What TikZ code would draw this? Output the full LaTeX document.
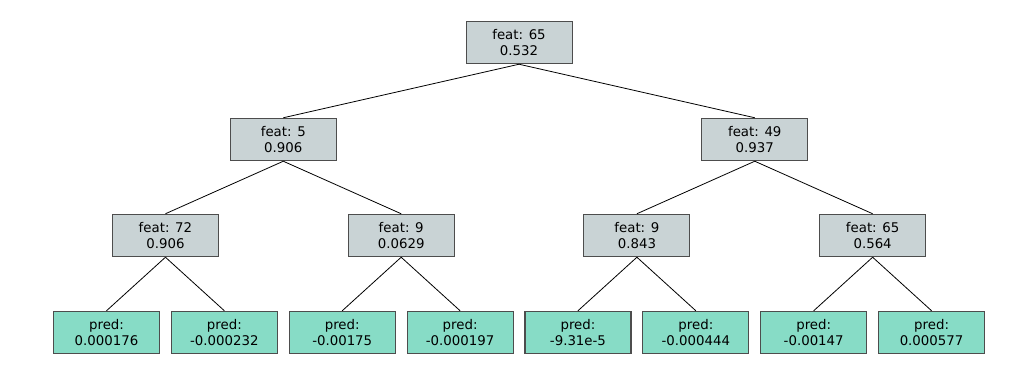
\documentclass[tikz,border=0pt]{standalone}
\usepackage{fontspec}
\setmainfont{DejaVu Sans}
\usepackage{xcolor}
\definecolor{splitgray}{HTML}{C9D3D5}
\definecolor{leafteal}{HTML}{87DCC6}
\definecolor{boxline}{HTML}{4D4D4D}
\usetikzlibrary{positioning,calc}
\tikzset{
  tb/.style={draw=boxline, align=center, font=\fontsize{10}{11.6}\selectfont,
             inner sep=0pt, minimum width=79.5pt, minimum height=31.8pt, line width=0.8pt},
  tsplit/.style={tb, fill=splitgray},
  tleaf/.style={tb, fill=leafteal},
  ed/.style={draw=black, line width=0.6pt},
}

\begin{document}
\begin{tikzpicture}[x=0.75pt, y=-0.75pt, node distance=8.1pt]
  \useasboundingbox (0,0) rectangle (1024,384);
  % leaves
  \node[tleaf] (p1) at (106.5,332.5) {pred:\\0.000176};
  \node[tleaf, right=of p1] (p2) {pred:\\-0.000232};
  \node[tleaf, right=of p2] (p3) {pred:\\-0.00175};
  \node[tleaf, right=of p3] (p4) {pred:\\-0.000197};
  \node[tleaf, right=of p4] (p5) {pred:\\-9.31e-5};
  \node[tleaf, right=of p5] (p6) {pred:\\-0.000444};
  \node[tleaf, right=of p6] (p7) {pred:\\-0.00147};
  \node[tleaf, right=of p7] (p8) {pred:\\0.000577};
  % splits
  \node[tsplit] (f72) at ($(p1)!0.5!(p2)+(0,-97)$) {feat: 72\\0.906};
  \node[tsplit] (f9a) at ($(p3)!0.5!(p4)+(0,-97)$) {feat: 9\\0.0629};
  \node[tsplit] (f9b) at ($(p5)!0.5!(p6)+(0,-97)$) {feat: 9\\0.843};
  \node[tsplit] (f65b) at ($(p7)!0.5!(p8)+(0,-97)$) {feat: 65\\0.564};
  \node[tsplit] (f5) at ($(f72)!0.5!(f9a)+(0,-96)$) {feat: 5\\0.906};
  \node[tsplit] (f49) at ($(f9b)!0.5!(f65b)+(0,-96)$) {feat: 49\\0.937};
  \node[tsplit] (f65) at ($(f5)!0.5!(f49)+(0,-97)$) {feat: 65\\0.532};
  \draw[ed] (f65.south) -- (f5.north);
  \draw[ed] (f65.south) -- (f49.north);
  \draw[ed] (f5.south) -- (f72.north);
  \draw[ed] (f5.south) -- (f9a.north);
  \draw[ed] (f49.south) -- (f9b.north);
  \draw[ed] (f49.south) -- (f65b.north);
  \draw[ed] (f72.south) -- (p1.north);
  \draw[ed] (f72.south) -- (p2.north);
  \draw[ed] (f9a.south) -- (p3.north);
  \draw[ed] (f9a.south) -- (p4.north);
  \draw[ed] (f9b.south) -- (p5.north);
  \draw[ed] (f9b.south) -- (p6.north);
  \draw[ed] (f65b.south) -- (p7.north);
  \draw[ed] (f65b.south) -- (p8.north);
\end{tikzpicture}
\end{document}
